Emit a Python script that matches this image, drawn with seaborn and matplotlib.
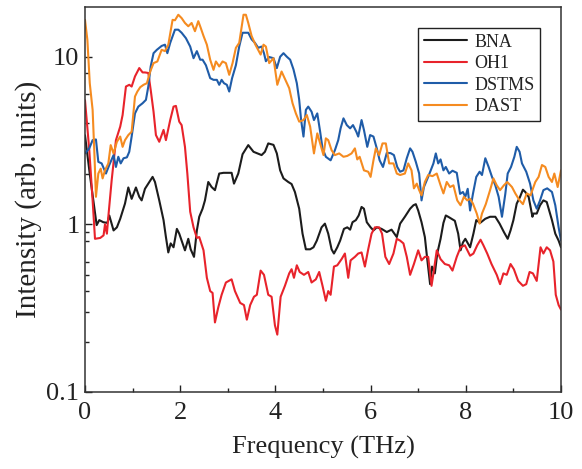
import matplotlib
matplotlib.use("Agg")
import matplotlib.pyplot as plt
import pandas as pd
import seaborn as sns
from matplotlib.ticker import FixedLocator, FixedFormatter, NullFormatter

# ---------------- data ----------------
bna_freq = [0, 0.1, 0.245, 0.30, 0.385, 0.47, 0.51, 0.6, 0.67, 0.74,
            0.84, 0.91, 0.98, 1.07, 1.14, 1.19, 1.26, 1.33, 1.42, 1.47,
            1.56, 1.65, 1.70, 1.75, 1.80, 1.86, 1.93, 1.98, 2.03, 2.10,
            2.17, 2.22, 2.29, 2.35, 2.40, 2.47, 2.52, 2.59, 2.66, 2.73,
            2.82, 2.91, 3.08, 3.13, 3.22, 3.31, 3.43, 3.54, 3.71, 3.78,
            3.85, 3.96, 4.03, 4.10, 4.17, 4.27, 4.34, 4.41, 4.50, 4.57,
            4.64, 4.73, 4.80, 4.87, 4.97, 5.04, 5.11, 5.18, 5.23, 5.30,
            5.36, 5.44, 5.51, 5.57, 5.62, 5.69, 5.75, 5.81, 5.86, 5.92,
            6.00, 6.06, 6.13, 6.23, 6.34, 6.44, 6.55, 6.62, 6.72, 6.83,
            6.90, 6.95, 7.00, 7.07, 7.14, 7.19, 7.25, 7.29, 7.35, 7.40,
            7.47, 7.53, 7.58, 7.63, 7.70, 7.77, 7.84, 7.89, 7.94, 7.99,
            8.09, 8.16, 8.22, 8.30, 8.41, 8.51, 8.62, 8.71, 8.80, 8.88,
            8.94, 9.00, 9.07, 9.14, 9.20, 9.25, 9.32, 9.40, 9.42, 9.49,
            9.56, 9.63, 9.70, 9.81, 9.88, 9.95, 10.0]
bna_int = [3.4, 2.0, 0.99, 1.06, 1.03, 1.02, 1.13, 0.92, 0.96, 1.08,
           1.33, 1.66, 1.42, 1.66, 1.46, 1.39, 1.63, 1.75, 1.92, 1.79,
           1.39, 1.06, 0.84, 0.68, 0.77, 0.73, 0.94, 0.88, 0.80, 0.70,
           0.82, 0.71, 0.64, 0.92, 1.11, 1.24, 1.39, 1.79, 1.67, 1.60,
           2.01, 2.03, 2.03, 1.75, 2.01, 2.62, 2.97, 2.71, 2.59, 2.71,
           3.04, 2.98, 2.65, 2.10, 1.88, 1.79, 1.74, 1.56, 1.24, 0.88,
           0.71, 0.71, 0.73, 0.80, 0.96, 1.01, 0.88, 0.71, 0.67, 0.73,
           0.80, 0.94, 0.96, 0.93, 1.03, 1.06, 1.13, 1.27, 1.24, 1.03,
           0.96, 0.92, 0.96, 0.94, 0.90, 0.93, 0.84, 1.01, 1.11, 1.24,
           1.30, 1.32, 1.21, 1.03, 0.84, 0.62, 0.44, 0.56, 0.51, 0.67,
           0.82, 1.02, 1.13, 1.11, 1.08, 1.05, 0.88, 0.70, 0.78, 0.82,
           0.73, 0.88, 1.06, 1.02, 1.08, 1.11, 1.11, 1.01, 0.90, 0.82,
           0.92, 1.06, 1.33, 1.46, 1.61, 1.56, 1.46, 1.11, 1.16, 1.16,
           1.30, 1.39, 1.36, 1.06, 0.88, 0.80, 0.73]

oh1_freq = [0, 0.09, 0.16, 0.21, 0.32, 0.39, 0.42, 0.46, 0.49, 0.56,
            0.65, 0.74, 0.79, 0.86, 0.93, 0.98, 1.05, 1.14, 1.21, 1.26,
            1.33, 1.38, 1.44, 1.49, 1.56, 1.65, 1.70, 1.79, 1.86, 1.91,
            1.98, 2.03, 2.10, 2.15, 2.21, 2.28, 2.35, 2.40, 2.49, 2.56,
            2.63, 2.68, 2.73, 2.80, 2.87, 2.96, 3.08, 3.15, 3.26, 3.34,
            3.40, 3.47, 3.55, 3.61, 3.69, 3.76, 3.85, 3.92, 3.99, 4.04,
            4.11, 4.20, 4.29, 4.34, 4.39, 4.45, 4.51, 4.60, 4.69, 4.76,
            4.85, 4.92, 4.99, 5.06, 5.11, 5.16, 5.23, 5.30, 5.39, 5.46,
            5.53, 5.58, 5.67, 5.74, 5.81, 5.88, 5.95, 6.02, 6.09, 6.18,
            6.24, 6.31, 6.39, 6.48, 6.55, 6.62, 6.69, 6.76, 6.83, 6.91,
            7.00, 7.07, 7.14, 7.21, 7.28, 7.32, 7.39, 7.47, 7.56, 7.65,
            7.72, 7.81, 7.89, 7.98, 8.09, 8.16, 8.24, 8.31, 8.37, 8.45,
            8.54, 8.65, 8.72, 8.79, 8.86, 8.94, 9.01, 9.10, 9.20, 9.27,
            9.34, 9.41, 9.49, 9.57, 9.63, 9.70, 9.77, 9.84, 9.89, 9.95,
            10.0]
oh1_int = [5.5, 2.77, 1.39, 0.82, 0.83, 0.86, 1.0, 0.88, 1.11, 1.83,
           3.18, 3.83, 4.49, 6.64, 6.80, 6.64, 7.63, 8.56, 8.06, 8.06,
           8.0, 6.35, 4.7, 3.41, 3.11, 3.66, 3.18, 4.19, 5.04, 5.09,
           4.10, 3.91, 2.9, 2.01, 1.19, 0.96, 0.83, 0.84, 0.70, 0.48,
           0.40, 0.39, 0.26, 0.32, 0.38, 0.45, 0.47, 0.40, 0.34, 0.33,
           0.27, 0.33, 0.37, 0.38, 0.53, 0.50, 0.38, 0.37, 0.25, 0.22,
           0.37, 0.43, 0.51, 0.54, 0.48, 0.57, 0.52, 0.50, 0.52, 0.45,
           0.47, 0.52, 0.43, 0.35, 0.40, 0.38, 0.56, 0.57, 0.62, 0.67,
           0.48, 0.61, 0.64, 0.67, 0.68, 0.56, 0.71, 0.88, 0.96, 0.96,
           0.88, 0.64, 0.58, 0.67, 0.82, 0.80, 0.77, 0.64, 0.50, 0.58,
           0.70, 0.61, 0.64, 0.64, 0.43, 0.51, 0.70, 0.62, 0.58, 0.57,
           0.53, 0.64, 0.73, 0.75, 0.65, 0.67, 0.75, 0.81, 0.75, 0.67,
           0.58, 0.50, 0.44, 0.51, 0.50, 0.58, 0.54, 0.46, 0.43, 0.44,
           0.52, 0.51, 0.46, 0.73, 0.67, 0.73, 0.70, 0.60, 0.38, 0.33,
           0.31]

dstms_freq = [0, 0.09, 0.16, 0.23, 0.28, 0.35, 0.44, 0.51, 0.60, 0.65,
              0.70, 0.75, 0.81, 0.88, 0.93, 0.98, 1.05, 1.12, 1.21, 1.28,
              1.33, 1.38, 1.44, 1.51, 1.61, 1.68, 1.73, 1.79, 1.89, 1.96,
              2.03, 2.12, 2.21, 2.28, 2.35, 2.42, 2.47, 2.54, 2.63, 2.70,
              2.77, 2.82, 2.87, 2.92, 2.98, 3.03, 3.09, 3.17, 3.24, 3.31,
              3.43, 3.50, 3.57, 3.64, 3.71, 3.76, 3.80, 3.87, 3.96, 4.03,
              4.10, 4.17, 4.24, 4.31, 4.38, 4.45, 4.50, 4.54, 4.59, 4.64,
              4.69, 4.76, 4.81, 4.88, 4.94, 4.99, 5.06, 5.16, 5.25, 5.32,
              5.37, 5.43, 5.50, 5.57, 5.63, 5.70, 5.74, 5.81, 5.86, 5.93,
              5.99, 6.06, 6.13, 6.19, 6.26, 6.34, 6.42, 6.49, 6.56, 6.62,
              6.69, 6.76, 6.83, 6.88, 6.95, 7.02, 7.07, 7.12, 7.21, 7.32,
              7.37, 7.42, 7.47, 7.53, 7.58, 7.65, 7.72, 7.81, 7.88, 7.94,
              7.99, 8.04, 8.09, 8.15, 8.22, 8.29, 8.34, 8.41, 8.48, 8.55,
              8.62, 8.69, 8.76, 8.83, 8.88, 8.95, 9.02, 9.07, 9.13, 9.18,
              9.27, 9.35, 9.42, 9.49, 9.56, 9.63, 9.71, 9.81, 9.88, 9.95,
              10.0]
dstms_int = [2.65, 2.84, 3.18, 3.21, 2.36, 2.31, 2.01, 2.26, 2.59, 2.20,
             2.53, 2.31, 2.48, 2.51, 2.71, 3.34, 4.59, 5.04, 5.28, 5.53,
             6.64, 8.75, 10.5, 11.0, 11.6, 11.8, 10.5, 12.1, 14.5, 14.5,
             13.9, 12.9, 11.5, 9.8, 10.8, 9.6, 9.6, 8.9, 7.45, 7.28,
             7.28, 6.80, 7.28, 6.95, 6.80, 6.20, 7.45, 8.9, 11.5, 13.9,
             13.9, 12.7, 12.1, 11.3, 11.5, 10.5, 9.4, 9.96, 9.8, 8.55,
             10.0, 10.5, 10.0, 9.6, 8.4, 6.95, 5.53, 4.19, 3.34, 4.82,
             5.04, 4.7, 4.19, 4.59, 3.57, 2.84, 2.53, 2.41, 2.77, 3.18,
             3.74, 4.29, 3.91, 3.74, 3.91, 3.57, 3.34, 4.19, 3.66, 2.90,
             3.41, 3.34, 2.84, 2.41, 2.20, 2.67, 2.66, 2.59, 2.20, 2.06,
             2.10, 2.48, 2.84, 2.71, 2.36, 2.01, 1.39, 1.67, 1.92, 2.31,
             2.65, 2.31, 2.44, 2.10, 2.20, 2.01, 2.09, 2.03, 1.52, 1.56,
             1.46, 1.63, 1.21, 1.52, 1.92, 2.06, 1.97, 2.48, 2.20, 1.92,
             1.71, 1.46, 1.11, 1.52, 2.01, 2.20, 2.53, 2.90, 2.71, 2.31,
             2.06, 1.75, 1.39, 1.24, 1.39, 1.60, 1.64, 1.56, 1.30, 0.96,
             0.80]

dast_freq = [0, 0.05, 0.10, 0.16, 0.20, 0.23, 0.28, 0.33, 0.37, 0.42,
             0.49, 0.54, 0.60, 0.67, 0.74, 0.79, 0.84, 0.91, 0.98, 1.05,
             1.10, 1.16, 1.23, 1.30, 1.37, 1.44, 1.52, 1.61, 1.68, 1.75,
             1.84, 1.89, 1.96, 2.03, 2.10, 2.17, 2.24, 2.31, 2.38, 2.43,
             2.49, 2.56, 2.63, 2.70, 2.75, 2.82, 2.89, 2.96, 3.03, 3.10,
             3.17, 3.24, 3.33, 3.38, 3.43, 3.50, 3.58, 3.69, 3.75, 3.80,
             3.87, 3.96, 4.04, 4.13, 4.21, 4.29, 4.36, 4.43, 4.50, 4.59,
             4.66, 4.73, 4.81, 4.88, 4.95, 5.01, 5.06, 5.11, 5.18, 5.25,
             5.34, 5.43, 5.51, 5.60, 5.67, 5.72, 5.77, 5.86, 5.95, 6.00,
             6.06, 6.11, 6.18, 6.25, 6.32, 6.39, 6.48, 6.55, 6.62, 6.72,
             6.79, 6.86, 6.91, 6.97, 7.02, 7.07, 7.14, 7.21, 7.30, 7.39,
             7.47, 7.53, 7.60, 7.67, 7.74, 7.82, 7.89, 7.96, 8.03, 8.09,
             8.15, 8.23, 8.29, 8.34, 8.42, 8.51, 8.58, 8.65, 8.72, 8.80,
             8.87, 8.97, 9.04, 9.13, 9.20, 9.28, 9.36, 9.46, 9.53, 9.60,
             9.67, 9.74, 9.81, 9.86, 9.93, 10.0]
dast_int = [16.6, 12.6, 6.95, 4.82, 2.53, 1.46, 2.01, 2.15, 1.88, 2.10,
            2.31, 2.97, 2.65, 3.11, 3.34, 2.90, 3.18, 3.41, 3.57, 5.79,
            6.20, 6.58, 6.80, 6.95, 8.16, 9.16, 9.37, 11.0, 10.8, 11.8,
            16.6, 16.5, 17.8, 17.0, 15.9, 15.2, 15.9, 14.2, 16.3, 14.9,
            13.3, 11.8, 9.6, 8.35, 9.37, 8.75, 9.37, 9.16, 7.80, 9.16,
            11.3, 12.1, 17.8, 17.8, 15.9, 13.3, 11.8, 10.3, 11.8, 11.5,
            9.16, 9.8, 6.80, 8.16, 7.28, 6.49, 5.28, 4.59, 4.10, 4.19,
            4.49, 3.83, 2.65, 3.49, 2.97, 2.59, 3.26, 3.18, 2.77, 2.59,
            2.65, 2.53, 2.56, 2.65, 2.84, 2.44, 2.53, 2.10, 2.06, 1.92,
            2.41, 2.84, 2.59, 3.04, 3.04, 2.31, 2.31, 2.01, 1.97, 2.01,
            2.31, 2.10, 1.64, 1.75, 1.60, 1.49, 1.79, 1.97, 1.94, 2.01,
            1.71, 1.53, 1.79, 1.67, 1.71, 1.39, 1.30, 1.46, 1.39, 1.42,
            1.33, 1.16, 1.01, 1.16, 1.32, 1.60, 1.88, 1.71, 1.60, 1.71,
            1.79, 1.67, 1.53, 1.39, 1.32, 1.53, 1.49, 1.79, 1.92, 2.26,
            2.20, 1.92, 1.79, 2.01, 1.67, 2.10]

series_names = ["BNA", "OH1", "DSTMS", "DAST"]
series_colors = ["#1c1c1c", "#e8232b", "#1f5ca8", "#f58b20"]
x_major = [0, 2, 4, 6, 8, 10]
x_minor = [1, 3, 5, 7, 9]
y_major = [0.1, 1, 10]
y_major_labels = ["0.1", "1", "10"]
y_minor = [0.2, 0.3, 0.4, 0.5, 0.6, 0.8, 0.9, 2, 4, 6, 8]

# ---------------- build table ----------------
frames = []
for name, f, v in zip(series_names,
                      [bna_freq, oh1_freq, dstms_freq, dast_freq],
                      [bna_int, oh1_int, dstms_int, dast_int]):
    assert len(f) == len(v), name
    frames.append(pd.DataFrame({"Frequency": f, "Intensity": v, "Sample": name}))
df = pd.concat(frames, ignore_index=True)

# ---------------- style ----------------
sns.set_style("ticks")
plt.rcParams["font.family"] = ["Liberation Serif", "DejaVu Serif"]

fig = plt.figure(figsize=(5.82, 4.69), dpi=100)
ax = fig.add_axes([85 / 582, 1 - 392 / 469, (561 - 85) / 582, (392 - 7) / 469])

sns.lineplot(data=df, x="Frequency", y="Intensity", hue="Sample",
             hue_order=series_names,
             palette=dict(zip(series_names, series_colors)),
             estimator=None, sort=False, linewidth=1.5, ax=ax)

ax.set_yscale("log")
ax.set_xlim(0, 10)
ax.set_ylim(0.1, 19.8)

ax.xaxis.set_major_locator(FixedLocator(x_major))
ax.xaxis.set_minor_locator(FixedLocator(x_minor))
ax.set_xticklabels([str(v) for v in x_major])
ax.yaxis.set_major_locator(FixedLocator(y_major))
ax.yaxis.set_major_formatter(FixedFormatter(y_major_labels))
ax.yaxis.set_minor_locator(FixedLocator(y_minor))
ax.yaxis.set_minor_formatter(NullFormatter())

ax.tick_params(which="both", direction="in", top=False, right=False,
               colors="#222222", width=1.0, labelcolor="#222222")
ax.tick_params(which="major", length=5, labelsize=19)
ax.tick_params(axis="x", which="major", pad=7)
ax.tick_params(axis="y", which="major", pad=4)
ax.tick_params(which="minor", length=3)
for s in ax.spines.values():
    s.set_color("#333333")
    s.set_linewidth(1.1)

ax.set_xlabel("Frequency (THz)", fontsize=19, color="#222222", labelpad=9)
ax.set_ylabel("Intensity (arb. units)", fontsize=21, color="#222222", labelpad=3)

handles, labels = ax.get_legend_handles_labels()
leg = ax.legend(handles, labels, loc="upper right",
                bbox_to_anchor=(0.956, 0.945), frameon=True, fancybox=False,
                edgecolor="#222222", framealpha=1, fontsize=13,
                handlelength=2.4, handletextpad=0.4, borderpad=0.3,
                labelspacing=0.25, borderaxespad=0)
leg.get_frame().set_linewidth(1.0)
for t in leg.get_texts():
    t.set_color("#222222")

fig.savefig("out.png", dpi=100)
